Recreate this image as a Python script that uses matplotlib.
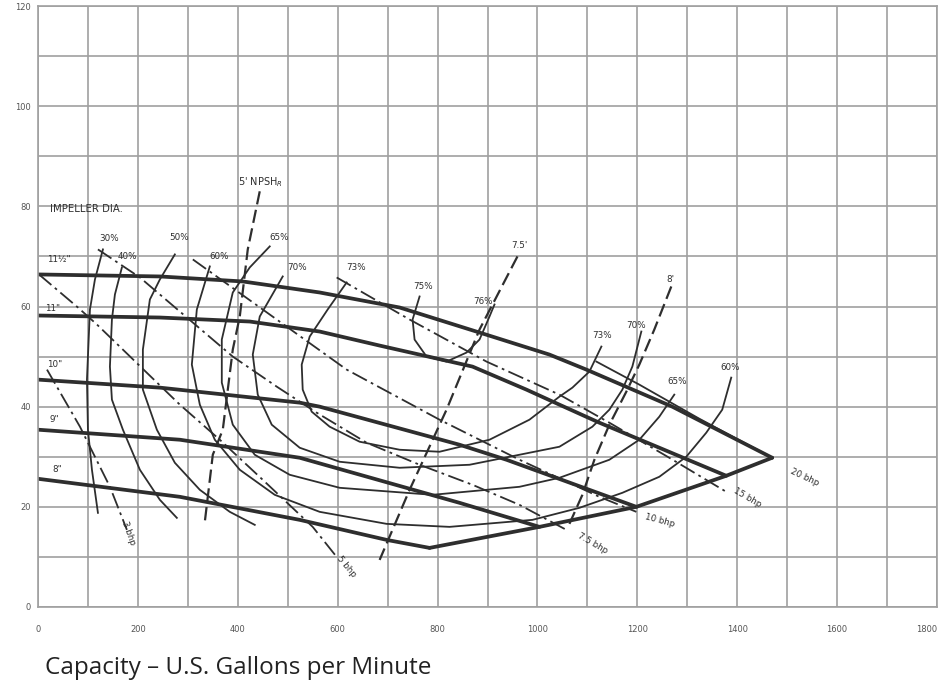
import matplotlib
matplotlib.use("Agg")
import matplotlib.pyplot as plt

plt.rcParams['font.family'] = ['DejaVu Sans']

# ---------------- data (gpm, ft) ----------------
x_ticks = [0, 200, 400, 600, 800, 1000, 1200, 1400, 1600, 1800]
x_tick_labels = ["0", "200", "400", "600", "800", "1000", "1200", "1400", "1600", "1800"]
y_ticks = [0, 20, 40, 60, 80, 100, 120]
y_tick_labels = ["0", "20", "40", "60", "80", "100", "120"]

# impeller curves
imp_115_gpm = [0, 244, 410, 564, 724, 884, 1024, 1098, 1270, 1470]
imp_115_ft = [66.4, 66.0, 65.0, 62.8, 59.8, 54.8, 50.4, 47.4, 40.0, 29.8]
imp_11_gpm = [0, 244, 424, 564, 684, 870, 978, 1044, 1124, 1244, 1378]
imp_11_ft = [58.2, 57.8, 57.0, 55.0, 52.2, 48.0, 43.4, 40.4, 36.8, 31.8, 26.2]
imp_10_gpm = [0, 244, 524, 564, 844, 938, 1198]
imp_10_ft = [45.4, 43.8, 40.8, 40.0, 32.4, 29.4, 20.0]
imp_9_gpm = [0, 284, 524, 844, 1004]
imp_9_ft = [35.4, 33.4, 29.8, 20.8, 16.0]
imp_8_gpm = [0, 284, 524, 698, 784]
imp_8_ft = [25.6, 22.0, 17.4, 13.4, 11.8]
end_gpm = [784, 1004, 1198, 1378, 1470]
end_ft = [11.8, 16.0, 20.0, 26.2, 29.8]

# efficiency contours
eff30_gpm = [130, 114, 104, 98, 100, 108, 120]
eff30_ft = [71.4, 65.4, 59.4, 45.4, 35.4, 27.4, 18.8]
eff40_gpm = [168, 154, 148, 144, 148, 170, 204, 244, 278]
eff40_ft = [67.8, 62.4, 57.4, 48.0, 41.4, 35.4, 27.4, 21.4, 17.8]
eff50_gpm = [274, 244, 224, 210, 210, 238, 274, 324, 384, 434]
eff50_ft = [70.4, 65.4, 61.4, 51.4, 43.4, 35.4, 28.8, 23.4, 19.0, 16.4]
eff60_gpm = [344, 318, 308, 324, 354, 404, 474, 564, 698, 824, 990, 1084, 1170, 1244, 1298, 1338, 1370, 1388]
eff60_ft = [68.0, 59.4, 48.4, 40.4, 33.4, 27.4, 22.4, 19.0, 16.6, 16.0, 17.4, 19.8, 22.8, 26.0, 30.0, 34.8, 39.4, 45.8]
eff65_gpm = [464, 424, 390, 368, 368, 390, 434, 504, 604, 790, 964, 1044, 1144, 1204, 1244, 1274]
eff65_ft = [72.0, 67.8, 62.8, 53.4, 44.8, 36.4, 30.4, 26.4, 23.8, 22.4, 24.0, 25.8, 29.4, 33.4, 38.0, 42.4]
eff70_gpm = [490, 444, 430, 440, 468, 524, 604, 724, 864, 964, 1044, 1110, 1144, 1170, 1190, 1208]
eff70_ft = [66.0, 58.0, 50.4, 42.4, 36.4, 31.8, 29.0, 27.8, 28.4, 30.4, 32.0, 36.0, 39.4, 43.4, 48.0, 55.0]
eff73_gpm = [618, 580, 544, 528, 530, 548, 584, 644, 724, 804, 904, 984, 1044, 1070, 1104, 1128]
eff73_ft = [64.8, 59.4, 54.0, 48.4, 43.4, 39.0, 36.0, 33.0, 31.4, 31.0, 33.4, 37.4, 42.0, 43.8, 47.0, 52.0]
eff75_gpm = [764, 750, 754, 778, 818, 858, 884, 904, 914]
eff75_ft = [62.0, 57.4, 53.4, 50.0, 49.0, 50.8, 53.4, 58.0, 60.4]

# NPSH required
npsh5_gpm = [444, 420, 404, 390, 370, 350, 334]
npsh5_ft = [83.0, 71.4, 58.0, 51.4, 35.4, 30.4, 17.0]
npsh75_gpm = [960, 884, 818, 744, 684]
npsh75_ft = [70.0, 55.4, 39.4, 23.4, 9.4]
npsh8_gpm = [1268, 1234, 1204, 1178, 1144, 1114, 1090, 1064]
npsh8_ft = [64.0, 55.4, 48.4, 43.0, 36.4, 29.4, 22.4, 16.6]

# brake horsepower
bhp3_gpm = [18, 84, 144, 178]
bhp3_ft = [47.4, 36.0, 24.0, 15.4]
bhp5_gpm = [2, 80, 118, 284, 364, 450, 550, 598]
bhp5_ft = [66.4, 59.8, 56.4, 40.4, 33.4, 25.4, 16.0, 10.0]
bhp75_gpm = [120, 204, 284, 390, 478, 558, 658, 764, 870, 964, 1058]
bhp75_ft = [71.4, 65.8, 59.0, 50.0, 44.0, 38.8, 32.8, 28.4, 24.4, 20.4, 15.4]
bhp10_gpm = [310, 464, 618, 804, 964, 1124, 1198]
bhp10_ft = [69.4, 58.4, 47.4, 37.4, 29.4, 22.0, 19.0]
bhp15_gpm = [598, 744, 898, 1044, 1144, 1264, 1378]
bhp15_ft = [65.8, 57.4, 49.0, 42.4, 36.8, 29.8, 23.0]
bhp20_gpm = [1118, 1204, 1324, 1470]
bhp20_ft = [49.0, 44.4, 37.6, 29.8]

# ---------------- figure ----------------
fig = plt.figure(figsize=(9.43, 6.83), dpi=100)
ax = fig.add_axes([38 / 943, 1 - 607 / 683, (937 - 38) / 943, (607 - 6) / 683])
ax.set_xlim(0, 1800)
ax.set_ylim(0, 120)
ax.set_xticks(x_ticks)
ax.set_xticklabels(x_tick_labels)
ax.set_xticks(range(100, 1800, 200), minor=True)
ax.set_yticks(y_ticks)
ax.set_yticklabels(y_tick_labels)
ax.set_yticks(range(10, 120, 20), minor=True)
ax.grid(which='both', color='#a0a0a0', lw=1.2)
ax.set_axisbelow(True)
ax.tick_params(which='both', length=0, labelsize=6, colors='#555555')
ax.tick_params(axis='x', pad=13)
ax.tick_params(axis='y', pad=5)
xl = ax.get_xticklabels()
xl[-1].set_horizontalalignment('right')
for s in ax.spines.values():
    s.set_color('#a0a0a0')
    s.set_linewidth(1.2)

ink = '#2e2e2e'
thick = dict(color=ink, lw=2.7, solid_capstyle='round', solid_joinstyle='round')
thin = dict(color=ink, lw=1.3)
dashdot = dict(color=ink, lw=1.3, ls=(0, (9, 2.5, 1.5, 2.5)))
dashed = dict(color=ink, lw=1.6, ls=(0, (6, 2.5)))

for q, h in [(imp_115_gpm, imp_115_ft), (imp_11_gpm, imp_11_ft), (imp_10_gpm, imp_10_ft),
             (imp_9_gpm, imp_9_ft), (imp_8_gpm, imp_8_ft), (end_gpm, end_ft)]:
    ax.plot(q, h, **thick)

for q, h in [(eff30_gpm, eff30_ft), (eff40_gpm, eff40_ft), (eff50_gpm, eff50_ft),
             (eff60_gpm, eff60_ft), (eff65_gpm, eff65_ft), (eff70_gpm, eff70_ft),
             (eff73_gpm, eff73_ft), (eff75_gpm, eff75_ft)]:
    ax.plot(q, h, **thin)

for q, h in [(npsh5_gpm, npsh5_ft), (npsh75_gpm, npsh75_ft), (npsh8_gpm, npsh8_ft)]:
    ax.plot(q, h, **dashed)

for q, h in [(bhp3_gpm, bhp3_ft), (bhp5_gpm, bhp5_ft), (bhp75_gpm, bhp75_ft),
             (bhp10_gpm, bhp10_ft), (bhp15_gpm, bhp15_ft)]:
    ax.plot(q, h, **dashdot)
ax.plot(bhp20_gpm, bhp20_ft, **thin)

lab = dict(fontsize=6.3, color=ink, ha='center', va='center')
ax.text(24, 79.4, "IMPELLER DIA.", fontsize=7.3, color=ink, ha='left', va='center')
for s, q, h in [("11½\"", 18, 69.4), ("11\"", 14, 59.6), ("10\"", 18, 48.4),
                ("9\"", 24, 37.4), ("8\"", 28, 27.4)]:
    ax.text(q, h, s, fontsize=6.3, color=ink, ha='left', va='center')

ax.text(446, 84.8, "5' NPSH$_R$", fontsize=7, color=ink, ha='center', va='center')
for s, q, h in [("30%", 142, 73.6), ("40%", 178, 70.0), ("50%", 282, 73.8),
                ("60%", 362, 70.0), ("65%", 482, 73.8), ("70%", 518, 67.8),
                ("73%", 636, 67.8), ("75%", 770, 64.0), ("76%", 890, 61.0),
                ("7.5'", 964, 72.2), ("73%", 1130, 54.2), ("70%", 1198, 56.2),
                ("8'", 1266, 65.4), ("65%", 1280, 45.0), ("60%", 1386, 47.8)]:
    ax.text(q, h, s, **lab)

for s, q, h, r in [("20 bhp", 1536, 25.8, -25), ("15 bhp", 1420, 21.8, -30),
                   ("10 bhp", 1246, 17.2, -15), ("7.5 bhp", 1110, 12.8, -30),
                   ("5 bhp", 618, 8.0, -50), ("3 bhp", 182, 14.8, -70)]:
    ax.text(q, h, s, rotation=r, rotation_mode='anchor', **lab)

fig.text(45 / 943, 1 - 674 / 683, "Capacity – U.S. Gallons per Minute",
         fontsize=17.5, family=['Open Sans', 'DejaVu Sans'], color='#222222',
         ha='left', va='baseline')

fig.savefig("out.png", dpi=100, facecolor='white')
